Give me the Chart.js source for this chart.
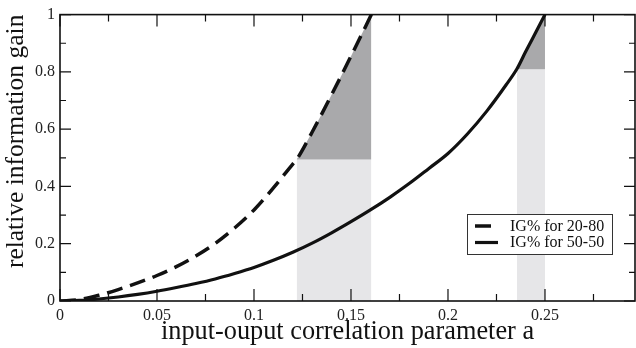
<!DOCTYPE html>
<html>
<head>
<meta charset="utf-8">
<script src="https://cdn.jsdelivr.net/npm/chart.js@4.4.1/dist/chart.umd.min.js"></script>
<style>
  html, body { margin: 0; padding: 0; background: #fff; }
  #wrap { width: 636px; height: 348px; position: relative; }
</style>
</head>
<body>
<div id="wrap"><canvas id="c"></canvas></div>
<script>
// IG% curves
const dashedA = [0, 0.01, 0.02, 0.03, 0.04, 0.05, 0.06, 0.07, 0.08, 0.09, 0.10, 0.11, 0.12, 0.122, 0.13, 0.14, 0.15, 0.16, 0.1605];
const dashedIG = [0, 0.005, 0.02, 0.04, 0.063, 0.089, 0.12, 0.157, 0.201, 0.255, 0.318, 0.395, 0.478, 0.494, 0.59, 0.72, 0.855, 0.993, 1.0];

const solidA = [0, 0.01, 0.02, 0.03, 0.04, 0.05, 0.06, 0.07, 0.08, 0.09, 0.10, 0.11, 0.12, 0.13, 0.14, 0.15, 0.16, 0.17, 0.18, 0.19, 0.20, 0.21, 0.22, 0.23, 0.2355, 0.24, 0.245, 0.25];
const solidIG = [0, 0.002, 0.007, 0.014, 0.023, 0.034, 0.047, 0.061, 0.077, 0.096, 0.117, 0.142, 0.17, 0.202, 0.238, 0.277, 0.318, 0.362, 0.41, 0.462, 0.515, 0.583, 0.663, 0.755, 0.81, 0.87, 0.935, 1.0];

const labels = ['IG% for 20-80', 'IG% for 50-50'];

// shaded bands: [a from, a to], level of light part
const bandA1 = [0.122, 0.1605];
const bandLevel1 = 0.494;
const bandA2 = [0.2355, 0.25];
const bandLevel2 = 0.809;

const xMajor = [0, 0.05, 0.1, 0.15, 0.2, 0.25];
const xMinor = [0.025, 0.075, 0.125, 0.175, 0.225, 0.275];
const yMajor = [0, 0.2, 0.4, 0.6, 0.8, 1];
const yMinor = [0.1, 0.3, 0.5, 0.7, 0.9];
const xMax = 0.2964;

const LIGHT = '#e6e6e8';
const DARK = '#a9a9ab';
const INK = '#111111';
const SERIF = '"Liberation Serif", "DejaVu Serif", serif';

const pts = (xs, ys) => xs.map((x, i) => ({ x, y: ys[i] }));
const inBand = (xs, ys, band) => pts(xs, ys).filter(p => p.x >= band[0] - 1e-9 && p.x <= band[1] + 1e-9);

const lineDs = (label, data, dash, width) => ({
  label, data, borderColor: INK, borderWidth: width, borderDash: dash,
  pointRadius: 0, fill: false, cubicInterpolationMode: 'monotone', order: 0,
});
const fillDs = (data, color, fill) => ({
  data, borderWidth: 0, borderColor: 'transparent', backgroundColor: color,
  pointRadius: 0, fill, order: 5, cubicInterpolationMode: 'monotone',
});

const datasets = [
  lineDs(labels[0], pts(dashedA, dashedIG), [16, 8], 3.5),
  lineDs(labels[1], pts(solidA, solidIG), [], 3.2),
  fillDs(inBand(dashedA, dashedIG, bandA1), DARK, { value: bandLevel1 }),
  fillDs(inBand(solidA, solidIG, bandA2), DARK, { value: bandLevel2 }),
  fillDs(bandA1.map(x => ({ x, y: bandLevel1 })), LIGHT, 'origin'),
  fillDs(bandA2.map(x => ({ x, y: bandLevel2 })), LIGHT, 'origin'),
];

// frame with inward ticks on all four sides
const framePlugin = {
  id: 'frame',
  afterDatasetsDraw(chart) {
    const { ctx, chartArea: a, scales: { x, y } } = chart;
    ctx.save();
    ctx.strokeStyle = INK;
    ctx.lineWidth = 1.6;
    ctx.strokeRect(a.left, a.top, a.right - a.left, a.bottom - a.top);
    ctx.lineWidth = 1.2;
    ctx.beginPath();
    const xt = (v, len) => {
      const px = x.getPixelForValue(v);
      ctx.moveTo(px, a.bottom); ctx.lineTo(px, a.bottom - len);
      ctx.moveTo(px, a.top); ctx.lineTo(px, a.top + len);
    };
    xMajor.forEach(v => xt(v, 12));
    xMinor.forEach(v => xt(v, 7));
    yMajor.forEach(v => {
      const py = y.getPixelForValue(v);
      ctx.moveTo(a.left, py); ctx.lineTo(a.left + 11, py);
      ctx.moveTo(a.right, py); ctx.lineTo(a.right - 11, py);
    });
    yMinor.forEach(v => {
      const py = y.getPixelForValue(v);
      ctx.moveTo(a.left, py); ctx.lineTo(a.left + 6, py);
      ctx.moveTo(a.right, py); ctx.lineTo(a.right - 6, py);
    });
    ctx.stroke();
    ctx.restore();
  }
};

// boxed legend inside the plot
const boxLegend = {
  id: 'boxLegend',
  afterDraw(chart) {
    const { ctx } = chart;
    const bx = 467, by = 214, bw = 145, bh = 40;
    ctx.save();
    ctx.fillStyle = '#fff';
    ctx.fillRect(bx, by, bw, bh);
    ctx.strokeStyle = '#333';
    ctx.lineWidth = 1;
    ctx.strokeRect(bx + 0.5, by + 0.5, bw, bh);
    chart.data.datasets.slice(0, 2).forEach((ds, i) => {
      const ly = by + 12 + i * 16.5;
      ctx.strokeStyle = INK;
      ctx.lineWidth = ds.borderWidth;
      ctx.setLineDash(ds.borderDash);
      ctx.beginPath();
      ctx.moveTo(bx + 8, ly);
      ctx.lineTo(bx + (i === 0 ? 26 : 31), ly);
      ctx.stroke();
      ctx.setLineDash([]);
      ctx.fillStyle = INK;
      ctx.font = '16px ' + SERIF;
      ctx.textBaseline = 'middle';
      ctx.fillText(ds.label, bx + 43, ly + 0.5);
    });
    ctx.restore();
  }
};

new Chart(document.getElementById('c'), {
  type: 'line',
  data: { datasets },
  plugins: [framePlugin, boxLegend],
  options: {
    responsive: true,
    maintainAspectRatio: false,
    animation: false,
    layout: { padding: { top: 10, right: 1, left: 0, bottom: 0 } },
    plugins: { legend: { display: false }, tooltip: { enabled: false } },
    scales: {
      x: {
        type: 'linear', min: 0, max: xMax,
        afterBuildTicks: s => { s.ticks = xMajor.map(v => ({ value: v })); },
        afterFit: s => { s.height = 47; },
        grid: { display: false, drawTicks: false },
        border: { display: false },
        ticks: {
          color: '#222', padding: 5, maxRotation: 0,
          font: { family: SERIF, size: 16 },
          callback: v => String(v),
        },
        title: {
          display: true, text: 'input-ouput correlation parameter a', color: '#111',
          font: { family: SERIF, size: 26.3 }, padding: { top: 0, bottom: 0 },
        },
      },
      y: {
        min: 0, max: 1,
        afterBuildTicks: s => { s.ticks = yMajor.map(v => ({ value: v })); },
        afterFit: s => { s.width = 60; },
        grid: { display: false, drawTicks: false },
        border: { display: false },
        ticks: {
          color: '#222', padding: 5,
          font: { family: SERIF, size: 16 },
          callback: v => String(v),
        },
        title: {
          display: true, text: 'relative information gain', color: '#111', align: 'end',
          font: { family: SERIF, size: 25.5 }, padding: { top: 1, bottom: 0 },
        },
      },
    },
  },
});
</script>
</body>
</html>
